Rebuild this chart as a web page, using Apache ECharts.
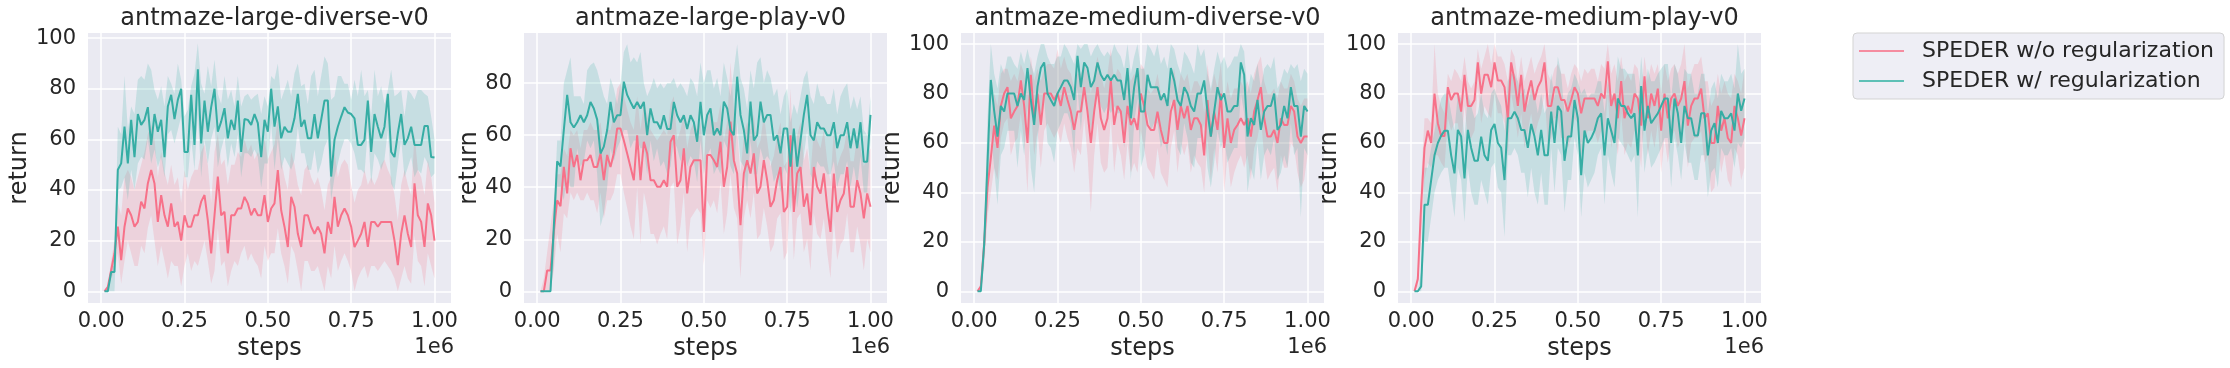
<!DOCTYPE html>
<html>
<head>
<meta charset="utf-8">
<title>antmaze returns</title>
<script src="https://cdn.jsdelivr.net/npm/echarts@6/dist/echarts.min.js"></script>
<style>
  html, body { margin: 0; padding: 0; background: #ffffff; }
  #main { width: 2230px; height: 368px; }
</style>
</head>
<body>
<div id="main"></div>
<script>
// training steps (x1e6)
var steps = [
  0.01, 0.02, 0.03, 0.04, 0.05, 0.06, 0.07, 0.08, 0.09, 0.10,
  0.11, 0.12, 0.13, 0.14, 0.15, 0.16, 0.17, 0.18, 0.19, 0.20,
  0.21, 0.22, 0.23, 0.24, 0.25, 0.26, 0.27, 0.28, 0.29, 0.30,
  0.31, 0.32, 0.33, 0.34, 0.35, 0.36, 0.37, 0.38, 0.39, 0.40,
  0.41, 0.42, 0.43, 0.44, 0.45, 0.46, 0.47, 0.48, 0.49, 0.50,
  0.51, 0.52, 0.53, 0.54, 0.55, 0.56, 0.57, 0.58, 0.59, 0.60,
  0.61, 0.62, 0.63, 0.64, 0.65, 0.66, 0.67, 0.68, 0.69, 0.70,
  0.71, 0.72, 0.73, 0.74, 0.75, 0.76, 0.77, 0.78, 0.79, 0.80,
  0.81, 0.82, 0.83, 0.84, 0.85, 0.86, 0.87, 0.88, 0.89, 0.90,
  0.91, 0.92, 0.93, 0.94, 0.95, 0.96, 0.97, 0.98, 0.99, 1.00
];
var xTicks = [0, 0.25, 0.5, 0.75, 1];

// ---- antmaze-large-diverse-v0 ----
var ldWoMean = [
  0, 1.7, 8.3, 15, 25.5, 12.3, 25.5, 32.7, 30, 25.5,
  27.4, 35.4, 32.7, 42.6, 47.9, 42.6, 27.4, 38, 30, 25.5,
  34.7, 25.5, 27.4, 20, 30, 25.5, 25.5, 30, 30, 35.4,
  38, 28, 15, 30, 45.3, 30, 31.4, 15, 30, 30,
  32.7, 32.7, 37.3, 34.7, 30, 32.7, 30, 30, 38, 27.4,
  32.7, 34.7, 47.9, 32, 25.5, 17.5, 37.3, 33.4, 22.7, 17.5,
  30, 30, 25.5, 22.7, 25.5, 22.7, 15, 27.4, 22.7, 37.3,
  25.5, 30, 32.7, 30, 25.5, 17.5, 20, 22.7, 27.4, 17.5,
  27.4, 27.4, 25.5, 27.4, 27.4, 27.4, 27.4, 20, 10.3, 22.7,
  30, 22.7, 17.5, 42.6, 30, 27.4, 17.5, 34.7, 30, 20
];
var ldWoLo = [
  0, 0, 5, 8, 15, 3, 12, 20, 15, 10,
  10, 18, 15, 25, 30, 20, 10, 18, 12, 5,
  12, 10, 10, 2, 10, 15, 8, 12, 10, 15,
  20, 12, 3, 8, 25, 10, 12, 2, 8, 12,
  10, 15, 18, 12, 15, 12, 10, 5, 18, 12,
  15, 15, 25, 15, 10, 3, 18, 15, 8, 0,
  12, 12, 8, 8, 10, 5, 0, 10, 5, 18,
  8, 12, 15, 12, 8, 0, 5, 8, 10, 5,
  10, 10, 8, 10, 12, 10, 8, 5, 0, 5,
  10, 5, 3, 22, 12, 10, 2, 15, 10, 5
];
var ldWoHi = [
  0, 2, 12, 20, 35, 30, 45, 48, 45, 40,
  45, 50, 55, 62, 66, 60, 45, 55, 47, 42,
  50, 42, 45, 35, 48, 40, 45, 48, 48, 55,
  58, 50, 35, 55, 62, 50, 52, 42, 50, 50,
  55, 53, 60, 55, 58, 52, 55, 52, 60, 52,
  55, 58, 68, 52, 45, 40, 55, 50, 42, 38,
  48, 50, 45, 42, 45, 40, 32, 42, 45, 55,
  45, 50, 52, 50, 42, 35, 40, 42, 48, 42,
  45, 42, 45, 50, 52, 48, 45, 38, 28, 42,
  48, 42, 38, 62, 48, 45, 38, 52, 45, 35
];
var ldWMean = [
  0, 0, 7.6, 7.6, 48, 50.5, 65, 50.5, 67.7, 53,
  70, 65.7, 67.7, 72.7, 57.8, 70, 63, 67.7, 53, 73,
  77.6, 68, 75.6, 80, 55, 55, 77.6, 57.8, 87.7, 58.4,
  75.3, 63, 72.7, 80, 63, 67, 72.3, 60.4, 67.7, 63.7,
  75.3, 55, 68, 67.7, 65.7, 70, 66.4, 53, 67.7, 63,
  80, 65, 73, 60.4, 65, 63, 63, 68.3, 78, 65,
  67.7, 60.4, 60.4, 70, 60.4, 67.7, 75.3, 75.3, 45.3, 59.8,
  65, 69, 72.7, 70.6, 70, 68.3, 57.8, 57.8, 59.8, 75.3,
  55, 70, 65, 60.4, 65, 78, 55, 53, 62.4, 70,
  57.8, 60.4, 65, 57.8, 57.8, 57.8, 65.3, 65.3, 53, 52.8
];
var ldWLo = [
  0, 0, 0, 0, 40, 41, 45, 36, 48, 40,
  50.5, 53, 52, 60, 50.5, 56, 49, 53, 45, 62,
  63.7, 58.4, 63.7, 69, 45, 45, 60, 48, 70, 45,
  60, 50.5, 60, 65, 49, 56, 61, 49, 58.4, 53,
  62, 45, 54.5, 54.5, 53, 56, 53, 41, 50.5, 50.5,
  66.4, 48, 60, 48, 53, 50.5, 48, 52, 65, 54.5,
  54.5, 48, 48, 56, 46.5, 50.5, 57, 60, 36, 45,
  50.5, 56, 60, 60, 58.4, 54.5, 48, 48, 46.5, 63.7,
  42.5, 54.5, 52, 48, 52, 63.7, 42.5, 40, 50.5, 60,
  45, 49, 53, 45, 48, 46.5, 53, 50.5, 45, 46.5
];
var ldWHi = [
  0, 0, 10, 10, 65, 62, 85, 63.7, 73, 70,
  83.5, 85, 83.5, 90, 87.5, 79.5, 75.6, 81, 73, 85,
  82, 78, 90, 83.5, 69, 71.6, 81, 86, 98, 82,
  78, 89, 81, 91.4, 78, 74, 85, 75.6, 79.5, 73,
  85, 73, 77, 78, 75.6, 77, 78, 70, 77, 73,
  85, 83.5, 90, 75.6, 79.5, 83.5, 77, 86, 90, 81,
  82, 74, 85, 87.5, 77, 85, 92.7, 90, 75.6, 77,
  85, 85, 82, 82, 75.6, 83.5, 77, 87.5, 77, 79.5,
  69, 87.5, 77, 81, 74, 79.5, 87.5, 77, 78, 79.5,
  69, 79.5, 78, 75.6, 79.5, 79.5, 78, 77, 69, 60
];

// ---- antmaze-large-play-v0 ----
var lpWoMean = [
  0, 0, 8, 8, 23, 35, 32.7, 47.8, 37.6, 55,
  47.8, 52.4, 42.7, 50.4, 50.4, 52.4, 47.8, 47.8, 53, 42.7,
  52.4, 47.8, 53, 62.6, 62.6, 58, 53, 47.8, 42.7, 60,
  42.7, 57.5, 53, 42.7, 42.7, 40.2, 40.2, 42.7, 40.2, 57.5,
  60, 40.2, 42.7, 55, 37.6, 47.8, 50.4, 50.4, 50.4, 22.8,
  52.4, 52.4, 50.4, 47.8, 57.5, 40.2, 47.8, 65.2, 50.4, 45.3,
  25.4, 45.3, 50.4, 45.3, 53, 37.6, 40.2, 50.4, 42.7, 32.5,
  35, 42.7, 47.8, 30.5, 32.5, 60, 30.5, 45.3, 47.8, 32.5,
  37.6, 25.4, 47.8, 40.2, 37.6, 45.3, 32.5, 22.8, 45.3, 30.5,
  35, 37.6, 47.8, 32.5, 32.5, 42.7, 37.6, 28, 37.6, 32.5
];
var lpWoLo = [
  0, 0, 0, 0, 8, 22, 15, 30, 28, 38,
  35, 38, 35, 35, 38, 35, 35, 30, 38, 28,
  35, 35, 38, 45, 45, 38, 32, 25, 20, 40,
  18, 38, 32, 22, 22, 18, 22, 25, 20, 40,
  42, 18, 25, 38, 15, 28, 30, 32, 30, 10,
  35, 32, 35, 30, 42, 22, 30, 45, 32, 28,
  5, 28, 35, 28, 38, 20, 22, 32, 25, 15,
  18, 28, 30, 12, 15, 40, 12, 28, 30, 15,
  20, 8, 30, 22, 20, 28, 15, 5, 28, 12,
  18, 20, 30, 15, 15, 25, 18, 8, 20, 15
];
var lpWoHi = [
  0, 5, 15, 25, 35, 45, 45, 55, 52, 62,
  60, 62, 55, 62, 62, 65, 62, 62, 65, 55,
  62, 62, 68, 78, 80, 75, 70, 65, 62, 75,
  62, 72, 68, 62, 60, 58, 60, 62, 60, 72,
  75, 58, 62, 68, 55, 62, 65, 62, 65, 50,
  68, 70, 65, 65, 72, 58, 65, 88, 70, 62,
  45, 60, 65, 62, 68, 55, 58, 68, 58, 48,
  52, 60, 65, 48, 50, 78, 48, 60, 65, 50,
  55, 45, 62, 58, 55, 62, 50, 42, 62, 48,
  52, 55, 62, 50, 50, 60, 55, 48, 52, 55
];
var lpWMean = [
  0, 0, 0, 0, 25, 50, 48, 62, 75.5, 65,
  63, 65, 67.7, 65, 67.7, 72.8, 70.3, 66, 53, 55.6,
  62, 72.8, 65, 67.7, 67.7, 80.6, 75.5, 72.8, 70.3, 72.8,
  70.3, 72.8, 60, 70.3, 65, 65, 62.4, 67.7, 62.4, 62.4,
  72.8, 67.7, 65, 67.7, 62.4, 67.7, 65, 57.5, 72.8, 60,
  67.8, 70.3, 60, 62.6, 60, 72.9, 70.3, 62, 60, 82.5,
  67.8, 62, 53, 72.9, 58, 60, 72.9, 65, 67.8, 67.8,
  58, 60, 53, 62.6, 62.6, 47.9, 62.6, 47.9, 58, 67.8,
  75.5, 60, 58, 65, 62.6, 62.6, 60, 60, 65, 55,
  60, 60, 65, 55, 62.6, 55, 65, 49.8, 49.8, 67.8
];
var lpWLo = [
  0, 0, 0, 0, 10, 40, 40, 35, 45, 40,
  40, 55, 48, 50, 58, 55, 58, 45, 25, 30,
  40, 55, 50, 55, 58, 62, 62, 55, 58, 58,
  55, 55, 45, 58, 50, 55, 48, 50, 45, 48,
  58, 55, 50, 55, 48, 52, 50, 42, 58, 45,
  52, 55, 45, 48, 45, 58, 55, 48, 45, 65,
  50, 48, 38, 58, 45, 45, 55, 50, 52, 50,
  42, 45, 38, 48, 45, 30, 48, 32, 42, 52,
  62, 45, 42, 50, 48, 48, 45, 45, 50, 40,
  45, 45, 50, 40, 48, 40, 52, 38, 38, 58
];
var lpWHi = [
  0, 0, 0, 0, 30, 58, 58, 80, 85, 90,
  75, 75, 75, 72, 85, 87, 88, 85, 80, 75,
  72, 82, 78, 72, 80, 92, 95, 88, 90, 88,
  92, 80, 75, 78, 82, 78, 80, 78, 80, 80,
  82, 78, 80, 78, 75, 82, 80, 75, 88, 80,
  85, 85, 78, 82, 75, 88, 82, 75, 85, 95,
  82, 78, 70, 85, 78, 88, 90, 80, 85, 82,
  75, 78, 68, 75, 78, 65, 72, 68, 75, 82,
  85, 75, 72, 80, 75, 75, 72, 72, 78, 68,
  75, 78, 80, 70, 75, 70, 75, 62, 60, 75
];

// ---- antmaze-medium-diverse-v0 ----
var mdWoMean = [
  0, 2, 19, 42, 54, 67, 58, 75, 80, 82.6,
  70, 72.7, 75, 85.3, 75, 60, 87.6, 70, 80, 67.3,
  80, 80, 80, 77.4, 80, 75, 82.6, 77.4, 72.7, 65.3,
  72.7, 72.7, 82.6, 72.7, 60, 72.7, 82.6, 70, 65.3, 70,
  85.3, 67.3, 75, 72.7, 60, 75, 67.3, 70, 65.3, 80,
  75, 67.3, 65.3, 65.3, 72.7, 65.3, 60, 60, 72.7, 77.4,
  65.3, 75, 70, 75, 65.3, 70, 70, 67.3, 55, 77.4,
  62.6, 72.7, 65.3, 80, 58, 70, 60, 65.3, 67.3, 70,
  67.3, 70, 62.6, 72.7, 77.4, 82.6, 70, 62.6, 62.6, 65.3,
  60, 70, 67.3, 67.3, 75, 72.7, 62.6, 60, 62.6, 62.6
];
var mdWoLo = [
  0, 0, 10, 30, 40, 50, 45, 62, 68, 70,
  55, 60, 62, 72, 60, 40, 75, 55, 65, 50,
  65, 68, 65, 62, 65, 60, 68, 62, 58, 48,
  58, 55, 70, 55, 32, 55, 68, 52, 48, 50,
  70, 48, 60, 55, 45, 60, 48, 52, 48, 65,
  58, 50, 48, 45, 58, 48, 45, 42, 58, 65,
  48, 60, 55, 60, 48, 55, 52, 50, 40, 62,
  45, 58, 48, 68, 40, 55, 42, 48, 52, 55,
  50, 55, 45, 58, 62, 70, 55, 45, 48, 50,
  40, 55, 50, 50, 60, 58, 48, 42, 45, 55
];
var mdWoHi = [
  0, 3, 28, 55, 70, 80, 75, 88, 90, 90,
  85, 88, 85, 92, 88, 80, 95, 85, 90, 85,
  90, 92, 92, 90, 98, 90, 95, 90, 88, 82,
  88, 88, 92, 88, 80, 88, 95, 88, 82, 88,
  98, 85, 90, 88, 80, 90, 85, 88, 85, 92,
  90, 82, 80, 82, 88, 80, 78, 75, 85, 90,
  80, 88, 85, 88, 80, 85, 85, 82, 72, 92,
  80, 88, 82, 92, 75, 85, 78, 82, 82, 85,
  82, 85, 80, 88, 92, 95, 85, 80, 80, 82,
  78, 85, 82, 82, 88, 85, 78, 75, 78, 78
];
var mdWMean = [
  0, 0, 19, 52, 85.5, 73, 62.6, 75, 72.7, 80,
  80, 80, 75, 80, 77.4, 90.3, 77.4, 67.3, 82.8, 90.3,
  92.6, 80, 77.4, 75, 80, 82.6, 85.3, 85.3, 82.6, 77.4,
  95.3, 82.6, 92.6, 90.3, 82.6, 85.3, 92.6, 87.6, 85.3, 87.6,
  85.3, 87.6, 85.3, 85.3, 77.4, 90.3, 70, 82.6, 90.3, 72.7,
  72.7, 87.6, 82.6, 82.6, 82.6, 77.4, 80, 75, 90.3, 85.3,
  77.4, 75, 82.6, 80, 75, 72.7, 80, 80, 85.3, 72.7,
  62.6, 72.7, 82.6, 77.4, 80, 72.7, 72.7, 75, 75, 92.6,
  87.6, 62.6, 70, 67.3, 77.4, 65.3, 72.7, 75, 75, 80,
  65.3, 67.3, 75, 70, 82.6, 75, 75, 62.6, 75, 72.7
];
var mdWLo = [
  0, 0, 12, 35, 65, 50, 35, 55, 58, 65,
  65, 65, 50, 65, 55, 75, 50, 40, 62, 72,
  78, 60, 58, 52, 65, 68, 72, 72, 68, 55,
  82, 65, 80, 75, 65, 72, 80, 75, 72, 75,
  72, 75, 72, 72, 58, 75, 45, 68, 78, 50,
  55, 72, 65, 68, 68, 58, 62, 55, 78, 72,
  58, 55, 68, 62, 52, 50, 62, 62, 68, 50,
  42, 52, 65, 58, 62, 52, 55, 58, 58, 80,
  72, 40, 50, 45, 60, 45, 55, 58, 55, 62,
  45, 48, 55, 50, 68, 55, 58, 30, 58, 55
];
var mdWHi = [
  0, 0, 25, 70, 100, 88, 82, 92, 88, 95,
  95, 92, 90, 97, 92, 98, 92, 88, 95, 100,
  100, 95, 92, 92, 95, 95, 100, 98, 95, 92,
  100, 98, 100, 100, 95, 98, 100, 97, 95, 97,
  95, 100, 97, 95, 90, 100, 88, 95, 100, 90,
  90, 100, 98, 95, 100, 92, 95, 90, 100, 98,
  92, 88, 97, 95, 92, 88, 100, 95, 98, 88,
  82, 90, 97, 92, 95, 90, 92, 95, 95, 100,
  97, 80, 88, 85, 92, 82, 90, 92, 90, 95,
  82, 85, 90, 88, 92, 90, 92, 85, 90, 88
];

// ---- antmaze-medium-play-v0 ----
var mpWoMean = [
  0, 5, 35, 58, 65, 60, 80, 68, 62.8, 62.8,
  82.6, 77.4, 80, 80, 72.7, 87.6, 75, 75, 77.4, 92.6,
  80, 87.6, 87.6, 82.6, 92.6, 85.3, 85.3, 82.6, 70, 92.6,
  85.3, 75, 87.6, 72.7, 80, 85.3, 77.4, 82.6, 85.3, 92.6,
  75, 75, 82.6, 82.6, 77.4, 77.4, 72.7, 77.4, 82.6, 80,
  72, 78, 78, 78, 78, 75, 80, 78, 93, 75,
  80, 70, 85, 70, 75, 72, 80, 78, 67, 87,
  70, 80, 75, 82, 65, 80, 70, 78, 80, 75,
  78, 85, 67, 75, 78, 78, 82, 70, 72, 60,
  60, 75, 65, 70, 62, 60, 75, 70, 63, 70
];
var mpWoLo = [
  0, 2, 22, 45, 52, 50, 55, 55, 52, 50,
  70, 65, 68, 68, 58, 75, 62, 62, 65, 82,
  68, 75, 72, 70, 80, 72, 72, 68, 55, 80,
  72, 62, 72, 58, 65, 72, 62, 68, 72, 80,
  60, 62, 70, 70, 62, 62, 58, 62, 70, 68,
  55, 62, 65, 65, 65, 60, 65, 62, 80, 58,
  65, 55, 72, 55, 60, 58, 65, 62, 50, 72,
  55, 65, 58, 68, 48, 62, 52, 62, 65, 58,
  62, 68, 50, 60, 62, 62, 65, 52, 55, 40,
  42, 60, 48, 55, 45, 42, 58, 55, 45, 50
];
var mpWoHi = [
  0, 8, 45, 70, 70, 68, 100, 80, 75, 72,
  88, 85, 90, 88, 85, 95, 85, 82, 85, 98,
  90, 95, 100, 92, 100, 95, 95, 92, 85, 98,
  95, 85, 95, 85, 90, 95, 88, 92, 95, 100,
  88, 85, 90, 92, 88, 88, 82, 88, 92, 90,
  85, 90, 88, 90, 90, 85, 92, 90, 100, 88,
  92, 85, 95, 85, 88, 85, 92, 90, 80, 95,
  85, 92, 88, 92, 80, 92, 85, 90, 92, 88,
  92, 100, 82, 88, 92, 92, 95, 85, 85, 75,
  78, 88, 80, 85, 80, 78, 88, 85, 80, 90
];
var mpWMean = [
  0, 0, 2, 35, 35, 45, 55, 60, 63, 65,
  65, 55, 47.7, 65.3, 62.6, 45.7, 65.3, 58, 52.8, 52.8,
  62.6, 55, 52.8, 65.3, 67.7, 60, 58, 45, 70, 70,
  72.7, 70, 65.3, 65.3, 58, 67.7, 62.6, 55, 65.3, 55,
  55, 72.7, 60, 75, 72.7, 52.8, 62.6, 62.6, 77.4, 70,
  47, 65, 60, 62, 65, 70, 72, 55, 70, 65,
  60, 78, 75, 75, 72, 70, 72, 55, 83, 65,
  75, 68, 70, 72, 75, 78, 78, 60, 78, 72,
  60, 75, 70, 70, 63, 63, 72, 72, 55, 65,
  68, 60, 73, 70, 70, 72, 65, 80, 73, 78
];
var mpWLo = [
  0, 0, 0, 20, 20, 30, 40, 45, 48, 50,
  50, 40, 30, 50, 45, 28, 50, 40, 35, 35,
  45, 40, 35, 50, 52, 42, 40, 22, 55, 55,
  58, 55, 48, 48, 38, 50, 40, 35, 48, 35,
  35, 58, 40, 58, 55, 32, 45, 45, 62, 55,
  30, 48, 42, 45, 48, 55, 58, 35, 55, 48,
  42, 62, 60, 58, 55, 52, 55, 30, 70, 48,
  58, 50, 52, 55, 58, 62, 62, 42, 62, 55,
  45, 60, 52, 52, 45, 45, 55, 55, 38, 48,
  50, 42, 58, 55, 55, 58, 50, 60, 58, 62
];
var mpWHi = [
  0, 0, 8, 50, 50, 58, 65, 72, 78, 80,
  80, 72, 65, 80, 78, 62, 80, 75, 70, 72,
  80, 72, 70, 80, 82, 78, 75, 65, 85, 88,
  88, 85, 80, 82, 75, 82, 80, 72, 80, 72,
  75, 88, 78, 95, 88, 72, 80, 82, 88, 85,
  80, 82, 78, 80, 80, 85, 85, 72, 85, 80,
  78, 95, 90, 90, 88, 88, 88, 75, 95, 80,
  90, 85, 85, 88, 90, 92, 92, 78, 92, 88,
  78, 90, 88, 88, 80, 80, 88, 88, 72, 82,
  85, 78, 88, 85, 85, 88, 82, 100, 88, 90
];

var RED = '#f77189';
var GREEN = '#36ada4';
var RED_BAND = 'rgba(247, 113, 137, 0.2)';
var GREEN_BAND = 'rgba(54, 173, 164, 0.2)';
var NAME_WO = 'SPEDER w/o regularization';
var NAME_W = 'SPEDER w/ regularization';
var TEXT = '#262626';
var FONT = 'DejaVu Sans';

var panels = [
  { title: 'antmaze-large-diverse-v0', left: 88, ymin: -4.63, ymax: 102, yticks: [0, 20, 40, 60, 80, 100], gap: 55,
    wo: [ldWoMean, ldWoLo, ldWoHi], w: [ldWMean, ldWLo, ldWHi] },
  { title: 'antmaze-large-play-v0', left: 524, ymin: -4.5, ymax: 99.3, yticks: [0, 20, 40, 60, 80], gap: 41,
    wo: [lpWoMean, lpWoLo, lpWoHi], w: [lpWMean, lpWLo, lpWHi] },
  { title: 'antmaze-medium-diverse-v0', left: 961, ymin: -4.74, ymax: 104.5, yticks: [0, 20, 40, 60, 80, 100], gap: 54,
    wo: [mdWoMean, mdWoLo, mdWoHi], w: [mdWMean, mdWLo, mdWHi] },
  { title: 'antmaze-medium-play-v0', left: 1398, ymin: -4.74, ymax: 104.5, yticks: [0, 20, 40, 60, 80, 100], gap: 54,
    wo: [mpWoMean, mpWoLo, mpWoHi], w: [mpWMean, mpWLo, mpWHi] }
];
var PW = 363, PT = 33, PH = 270;

function pairs(ys) {
  return ys.map(function (y, i) { return [steps[i], y]; });
}
function bandRows(lo, hi) {
  return lo.map(function (l, i) { return [steps[i], l, hi[i]]; });
}

// one polygon for the whole band: upper edge left->right, lower edge back
function bandRenderer(fill) {
  return function (params, api) {
    if (params.dataIndexInside !== 0) return null;
    var n = params.dataInsideLength;
    var top = [], bottom = [];
    for (var i = 0; i < n; i++) {
      top.push(api.coord([api.value(0, i), api.value(2, i)]));
      bottom.push(api.coord([api.value(0, i), api.value(1, i)]));
    }
    return {
      type: 'polygon',
      shape: { points: top.concat(bottom.reverse()) },
      style: { fill: fill, stroke: null }
    };
  };
}

var grids = [], xAxes = [], yAxes = [], titles = [], series = [];

panels.forEach(function (p, k) {
  grids.push({ left: p.left, top: PT, width: PW, height: PH, show: true,
    backgroundColor: '#eaeaf2', borderWidth: 0 });

  xAxes.push({
    type: 'value', gridIndex: k, min: -0.0395, max: 1.0495,
    name: 'steps', nameLocation: 'middle', nameGap: 32,
    nameTextStyle: { fontFamily: FONT, fontSize: 24, color: TEXT },
    axisLine: { show: false },
    axisTick: { show: false, customValues: xTicks },
    axisLabel: { customValues: xTicks, fontFamily: FONT, fontSize: 21, color: TEXT, margin: 8,
      formatter: function (v) { return v.toFixed(2); } },
    splitLine: { show: true, lineStyle: { color: '#ffffff', width: 1.5 } }
  });

  yAxes.push({
    type: 'value', gridIndex: k, min: p.ymin, max: p.ymax,
    name: 'return', nameLocation: 'middle', nameGap: p.gap,
    nameTextStyle: { fontFamily: FONT, fontSize: 24, color: TEXT },
    axisLine: { show: false },
    axisTick: { show: false, customValues: p.yticks },
    axisLabel: { customValues: p.yticks, fontFamily: FONT, fontSize: 21, color: TEXT, margin: 12 },
    splitLine: { show: true, lineStyle: { color: '#ffffff', width: 1.5 } }
  });

  titles.push({ text: p.title, left: p.left + PW / 2, top: 2, textAlign: 'center',
    textStyle: { fontFamily: FONT, fontSize: 24, fontWeight: 'normal', color: TEXT } });
  titles.push({ text: '1e6', left: p.left + PW - 2, top: 332, textAlign: 'right',
    textStyle: { fontFamily: FONT, fontSize: 21, fontWeight: 'normal', color: TEXT } });

  [[p.wo, RED, RED_BAND, NAME_WO], [p.w, GREEN, GREEN_BAND, NAME_W]].forEach(function (h) {
    var d = h[0];
    series.push({ name: h[3], type: 'line', xAxisIndex: k, yAxisIndex: k,
      data: pairs(d[0]), symbol: 'none', lineStyle: { color: h[1], width: 2 },
      itemStyle: { color: h[1] } });
    series.push({ name: h[3] + ' band', type: 'custom', xAxisIndex: k, yAxisIndex: k,
      data: bandRows(d[1], d[2]), encode: { x: 0, y: [1, 2] },
      renderItem: bandRenderer(h[2]), clip: true });
  });
});

var chart = echarts.init(document.getElementById('main'));
chart.setOption({
  backgroundColor: '#ffffff',
  animation: false,
  title: titles,
  grid: grids,
  xAxis: xAxes,
  yAxis: yAxes,
  legend: {
    orient: 'vertical', left: 1853, top: 33,
    padding: [7, 10, 7, 6], itemGap: 8,
    itemWidth: 45, itemHeight: 2,
    backgroundColor: '#eeeef5', borderColor: '#d3d3d3', borderWidth: 1, borderRadius: 4,
    textStyle: { fontFamily: FONT, fontSize: 22, color: TEXT, padding: [0, 0, 0, 13], lineHeight: 22 },
    data: [
      { name: NAME_WO, icon: 'rect', itemStyle: { color: '#f58ca0' } },
      { name: NAME_W, icon: 'rect', itemStyle: { color: '#5ec0b6' } }
    ]
  },
  series: series
});
</script>
</body>
</html>
